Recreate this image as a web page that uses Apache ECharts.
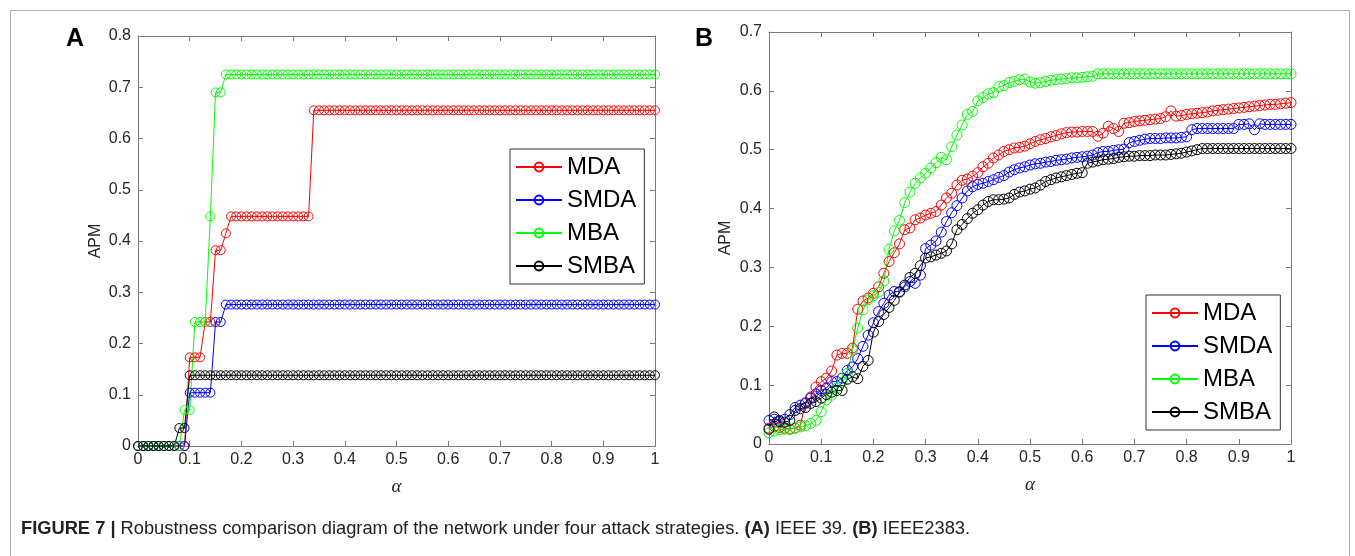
<!DOCTYPE html>
<html>
<head>
<meta charset="utf-8">
<script src="https://cdn.jsdelivr.net/npm/echarts@6/dist/echarts.min.js"></script>
<style>
  html, body { margin: 0; padding: 0; background: #fff; }
  #main { width: 1355px; height: 556px; }
</style>
</head>
<body>
<div id="main"></div>
<script>
// alpha values (x axis), shared by both panels
const alpha = [
  0, 0.01, 0.02, 0.03, 0.04, 0.05, 0.06, 0.07, 0.08, 0.09,
  0.1, 0.11, 0.12, 0.13, 0.14, 0.15, 0.16, 0.17, 0.18, 0.19,
  0.2, 0.21, 0.22, 0.23, 0.24, 0.25, 0.26, 0.27, 0.28, 0.29,
  0.3, 0.31, 0.32, 0.33, 0.34, 0.35, 0.36, 0.37, 0.38, 0.39,
  0.4, 0.41, 0.42, 0.43, 0.44, 0.45, 0.46, 0.47, 0.48, 0.49,
  0.5, 0.51, 0.52, 0.53, 0.54, 0.55, 0.56, 0.57, 0.58, 0.59,
  0.6, 0.61, 0.62, 0.63, 0.64, 0.65, 0.66, 0.67, 0.68, 0.69,
  0.7, 0.71, 0.72, 0.73, 0.74, 0.75, 0.76, 0.77, 0.78, 0.79,
  0.8, 0.81, 0.82, 0.83, 0.84, 0.85, 0.86, 0.87, 0.88, 0.89,
  0.9, 0.91, 0.92, 0.93, 0.94, 0.95, 0.96, 0.97, 0.98, 0.99,
  1
];

const seriesNames = ['MDA', 'SMDA', 'MBA', 'SMBA'];
const seriesColors = ['#ff0000', '#0000ff', '#00ff00', '#000000'];

const xTickLabels = ['0', '0.1', '0.2', '0.3', '0.4', '0.5', '0.6', '0.7', '0.8', '0.9', '1'];
const yTickLabelsA = ['0', '0.1', '0.2', '0.3', '0.4', '0.5', '0.6', '0.7', '0.8'];
const yTickLabelsB = ['0', '0.1', '0.2', '0.3', '0.4', '0.5', '0.6', '0.7'];

// (A) IEEE 39
const aMDA = [
  0, 0, 0, 0, 0, 0, 0, 0, 0, 0,
  0.173, 0.173, 0.173, 0.242, 0.242, 0.382, 0.382, 0.415, 0.448, 0.448,
  0.448, 0.448, 0.448, 0.448, 0.448, 0.448, 0.448, 0.448, 0.448, 0.448,
  0.448, 0.448, 0.448, 0.448, 0.655, 0.655, 0.655, 0.655, 0.655, 0.655,
  0.655, 0.655, 0.655, 0.655, 0.655, 0.655, 0.655, 0.655, 0.655, 0.655,
  0.655, 0.655, 0.655, 0.655, 0.655, 0.655, 0.655, 0.655, 0.655, 0.655,
  0.655, 0.655, 0.655, 0.655, 0.655, 0.655, 0.655, 0.655, 0.655, 0.655,
  0.655, 0.655, 0.655, 0.655, 0.655, 0.655, 0.655, 0.655, 0.655, 0.655,
  0.655, 0.655, 0.655, 0.655, 0.655, 0.655, 0.655, 0.655, 0.655, 0.655,
  0.655, 0.655, 0.655, 0.655, 0.655, 0.655, 0.655, 0.655, 0.655, 0.655,
  0.655
];
const aSMDA = [
  0, 0, 0, 0, 0, 0, 0, 0, 0, 0,
  0.104, 0.104, 0.104, 0.104, 0.104, 0.242, 0.242, 0.276, 0.276, 0.276,
  0.276, 0.276, 0.276, 0.276, 0.276, 0.276, 0.276, 0.276, 0.276, 0.276,
  0.276, 0.276, 0.276, 0.276, 0.276, 0.276, 0.276, 0.276, 0.276, 0.276,
  0.276, 0.276, 0.276, 0.276, 0.276, 0.276, 0.276, 0.276, 0.276, 0.276,
  0.276, 0.276, 0.276, 0.276, 0.276, 0.276, 0.276, 0.276, 0.276, 0.276,
  0.276, 0.276, 0.276, 0.276, 0.276, 0.276, 0.276, 0.276, 0.276, 0.276,
  0.276, 0.276, 0.276, 0.276, 0.276, 0.276, 0.276, 0.276, 0.276, 0.276,
  0.276, 0.276, 0.276, 0.276, 0.276, 0.276, 0.276, 0.276, 0.276, 0.276,
  0.276, 0.276, 0.276, 0.276, 0.276, 0.276, 0.276, 0.276, 0.276, 0.276,
  0.276
];
const aMBA = [
  0, 0, 0, 0, 0, 0, 0, 0, 0, 0.07,
  0.07, 0.242, 0.242, 0.242, 0.448, 0.69, 0.69, 0.725, 0.725, 0.725,
  0.725, 0.725, 0.725, 0.725, 0.725, 0.725, 0.725, 0.725, 0.725, 0.725,
  0.725, 0.725, 0.725, 0.725, 0.725, 0.725, 0.725, 0.725, 0.725, 0.725,
  0.725, 0.725, 0.725, 0.725, 0.725, 0.725, 0.725, 0.725, 0.725, 0.725,
  0.725, 0.725, 0.725, 0.725, 0.725, 0.725, 0.725, 0.725, 0.725, 0.725,
  0.725, 0.725, 0.725, 0.725, 0.725, 0.725, 0.725, 0.725, 0.725, 0.725,
  0.725, 0.725, 0.725, 0.725, 0.725, 0.725, 0.725, 0.725, 0.725, 0.725,
  0.725, 0.725, 0.725, 0.725, 0.725, 0.725, 0.725, 0.725, 0.725, 0.725,
  0.725, 0.725, 0.725, 0.725, 0.725, 0.725, 0.725, 0.725, 0.725, 0.725,
  0.725
];
const aSMBA = [
  0, 0, 0, 0, 0, 0, 0, 0, 0.035, 0.035,
  0.138, 0.138, 0.138, 0.138, 0.138, 0.138, 0.138, 0.138, 0.138, 0.138,
  0.138, 0.138, 0.138, 0.138, 0.138, 0.138, 0.138, 0.138, 0.138, 0.138,
  0.138, 0.138, 0.138, 0.138, 0.138, 0.138, 0.138, 0.138, 0.138, 0.138,
  0.138, 0.138, 0.138, 0.138, 0.138, 0.138, 0.138, 0.138, 0.138, 0.138,
  0.138, 0.138, 0.138, 0.138, 0.138, 0.138, 0.138, 0.138, 0.138, 0.138,
  0.138, 0.138, 0.138, 0.138, 0.138, 0.138, 0.138, 0.138, 0.138, 0.138,
  0.138, 0.138, 0.138, 0.138, 0.138, 0.138, 0.138, 0.138, 0.138, 0.138,
  0.138, 0.138, 0.138, 0.138, 0.138, 0.138, 0.138, 0.138, 0.138, 0.138,
  0.138, 0.138, 0.138, 0.138, 0.138, 0.138, 0.138, 0.138, 0.138, 0.138,
  0.138
];

// (B) IEEE2383
const bMDA = [
  0.027, 0.030, 0.028, 0.027, 0.025, 0.027, 0.032, 0.069, 0.080, 0.097,
  0.106, 0.112, 0.124, 0.151, 0.154, 0.154, 0.163, 0.229, 0.243, 0.248,
  0.256, 0.267, 0.290, 0.310, 0.325, 0.340, 0.364, 0.367, 0.381, 0.384,
  0.389, 0.392, 0.395, 0.406, 0.418, 0.426, 0.440, 0.448, 0.450, 0.455,
  0.461, 0.471, 0.477, 0.486, 0.491, 0.497, 0.500, 0.503, 0.504, 0.506,
  0.510, 0.514, 0.517, 0.519, 0.522, 0.524, 0.527, 0.529, 0.530, 0.530,
  0.531, 0.531, 0.531, 0.523, 0.528, 0.540, 0.536, 0.531, 0.545, 0.546,
  0.548, 0.549, 0.550, 0.551, 0.552, 0.553, 0.556, 0.566, 0.557, 0.558,
  0.560, 0.561, 0.562, 0.563, 0.564, 0.566, 0.567, 0.568, 0.569, 0.570,
  0.571, 0.572, 0.573, 0.574, 0.575, 0.576, 0.577, 0.577, 0.578, 0.579,
  0.580
];
const bSMDA = [
  0.040, 0.042, 0.040, 0.042, 0.050, 0.062, 0.066, 0.070, 0.078, 0.085,
  0.091, 0.095, 0.106, 0.106, 0.112, 0.125, 0.131, 0.145, 0.166, 0.185,
  0.206, 0.225, 0.239, 0.253, 0.259, 0.259, 0.267, 0.276, 0.273, 0.287,
  0.332, 0.338, 0.345, 0.360, 0.378, 0.393, 0.405, 0.418, 0.430, 0.437,
  0.441, 0.443, 0.446, 0.449, 0.453, 0.456, 0.462, 0.466, 0.469, 0.471,
  0.474, 0.476, 0.477, 0.479, 0.480, 0.482, 0.483, 0.484, 0.486, 0.487,
  0.488, 0.489, 0.491, 0.495, 0.497, 0.497, 0.499, 0.500, 0.501, 0.512,
  0.514, 0.516, 0.518, 0.519, 0.519, 0.519, 0.520, 0.520, 0.520, 0.521,
  0.522, 0.534, 0.536, 0.536, 0.536, 0.536, 0.536, 0.536, 0.536, 0.536,
  0.543, 0.543, 0.544, 0.534, 0.544, 0.543, 0.543, 0.543, 0.543, 0.543,
  0.543
];
const bMBA = [
  0.019, 0.022, 0.024, 0.025, 0.026, 0.027, 0.029, 0.031, 0.035, 0.040,
  0.055, 0.075, 0.083, 0.095, 0.105, 0.120, 0.160, 0.197, 0.228, 0.245,
  0.252, 0.258, 0.277, 0.331, 0.362, 0.380, 0.410, 0.428, 0.443, 0.452,
  0.460, 0.469, 0.478, 0.487, 0.483, 0.505, 0.525, 0.542, 0.560, 0.565,
  0.583, 0.589, 0.595, 0.597, 0.607, 0.609, 0.614, 0.616, 0.619, 0.620,
  0.615, 0.613, 0.614, 0.616, 0.618, 0.619, 0.620, 0.621, 0.622, 0.622,
  0.623, 0.624, 0.625, 0.629, 0.629, 0.629, 0.629, 0.629, 0.629, 0.629,
  0.629, 0.629, 0.629, 0.629, 0.629, 0.629, 0.629, 0.629, 0.629, 0.629,
  0.629, 0.629, 0.629, 0.629, 0.629, 0.629, 0.629, 0.629, 0.629, 0.629,
  0.629, 0.629, 0.629, 0.629, 0.629, 0.629, 0.629, 0.629, 0.629, 0.629,
  0.629
];
const bSMBA = [
  0.025, 0.046, 0.038, 0.037, 0.040, 0.057, 0.060, 0.062, 0.069, 0.072,
  0.078, 0.084, 0.088, 0.091, 0.091, 0.110, 0.114, 0.111, 0.132, 0.142,
  0.190, 0.208, 0.220, 0.232, 0.244, 0.258, 0.270, 0.283, 0.290, 0.303,
  0.316, 0.318, 0.321, 0.324, 0.328, 0.340, 0.364, 0.373, 0.383, 0.392,
  0.398, 0.406, 0.412, 0.415, 0.415, 0.416, 0.418, 0.424, 0.428, 0.430,
  0.433, 0.435, 0.440, 0.446, 0.449, 0.452, 0.454, 0.456, 0.458, 0.460,
  0.461, 0.477, 0.479, 0.481, 0.483, 0.484, 0.485, 0.487, 0.488, 0.489,
  0.489, 0.490, 0.490, 0.490, 0.491, 0.491, 0.491, 0.492, 0.493, 0.494,
  0.496, 0.498, 0.500, 0.502, 0.502, 0.502, 0.502, 0.502, 0.502, 0.502,
  0.502, 0.502, 0.502, 0.502, 0.502, 0.502, 0.502, 0.502, 0.502, 0.502,
  0.502
];

const panelA = [aMDA, aSMDA, aMBA, aSMBA];
const panelB = [bMDA, bSMDA, bMBA, bSMBA];

const axisColor = '#7a7a7a';
const labelColor = '#262626';
const tickFont = 'Liberation Sans, Arial, sans-serif';

const myChart = echarts.init(document.getElementById('main'));

function xAxes(gridIndex, top) {
  return {
    type: 'value',
    gridIndex: gridIndex,
    position: top ? 'top' : 'bottom',
    min: 0, max: 1, interval: 0.1,
    name: top ? '' : 'α',
    nameLocation: 'middle',
    nameGap: 31,
    nameTextStyle: { fontFamily: 'Liberation Serif, serif', fontStyle: 'italic', fontSize: 19, color: labelColor },
    axisLine: { show: true, onZero: false, lineStyle: { color: axisColor, width: 1 } },
    axisTick: { show: true, inside: true, length: 5, lineStyle: { color: axisColor } },
    axisLabel: {
      show: !top, margin: 6, fontSize: 16, fontFamily: tickFont, color: labelColor,
      formatter: v => xTickLabels[Math.round(v * 10)]
    },
    splitLine: { show: false }
  };
}

function yAxes(gridIndex, right, max, labels, gap) {
  return {
    type: 'value',
    gridIndex: gridIndex,
    position: right ? 'right' : 'left',
    min: 0, max: max, interval: 0.1,
    name: right ? '' : 'APM',
    nameLocation: 'middle',
    nameGap: gap,
    nameTextStyle: { fontFamily: tickFont, fontSize: 16, color: labelColor },
    axisLine: { show: true, onZero: false, lineStyle: { color: axisColor, width: 1 } },
    axisTick: { show: true, inside: true, length: 5, lineStyle: { color: axisColor } },
    axisLabel: {
      show: !right, margin: 7, fontSize: 16, fontFamily: tickFont, color: labelColor,
      formatter: v => labels[Math.round(v * 10)]
    },
    splitLine: { show: false }
  };
}

function makeSeries(values, idx, axisIdx, size) {
  return {
    name: seriesNames[idx],
    type: 'line',
    xAxisIndex: axisIdx,
    yAxisIndex: axisIdx,
    data: alpha.map((a, i) => [a, values[i]]),
    symbol: 'circle',
    symbolSize: size,
    showAllSymbol: true,
    itemStyle: { color: 'rgba(255,255,255,0)', borderColor: seriesColors[idx], borderWidth: 1 },
    lineStyle: { color: seriesColors[idx], width: 1 },
    emphasis: { disabled: true },
    animation: false
  };
}

function legendAt(left, top) {
  return {
    left: left, top: top,
    orient: 'vertical',
    data: seriesNames,
    itemWidth: 46, itemHeight: 11, itemGap: 9,
    padding: [6, 8, 6, 5],
    borderColor: '#333', borderWidth: 1, backgroundColor: '#fff',
    textStyle: { fontFamily: tickFont, fontSize: 24, lineHeight: 24, color: '#000' },
    selectedMode: false
  };
}

const options = {
  animation: false,
  grid: [
    { left: 138, top: 36, width: 517, height: 410 },
    { left: 769, top: 32, width: 522, height: 412 }
  ],
  xAxis: [xAxes(0, false), xAxes(0, true), xAxes(1, false), xAxes(1, true)],
  yAxis: [
    yAxes(0, false, 0.8, yTickLabelsA, 34),
    yAxes(0, true, 0.8, yTickLabelsA, 34),
    yAxes(1, false, 0.7, yTickLabelsB, 35),
    yAxes(1, true, 0.7, yTickLabelsB, 35)
  ],
  legend: [legendAt(510, 149), legendAt(1146, 295)],
  series: [
    ...panelA.map((v, i) => makeSeries(v, i, 0, 9)),
    ...panelB.map((v, i) => makeSeries(v, i, 2, 10))
  ],
  graphic: [
    {
      type: 'rect', left: 8, top: 8, silent: true,
      shape: { width: 1339, height: 570 },
      style: { fill: 'none', stroke: '#b0b0b0', lineWidth: 1 }
    },
    {
      type: 'text', left: 66, top: 27,
      style: { text: 'A', font: 'bold 25px Liberation Sans, Arial, sans-serif', fill: '#000' }
    },
    {
      type: 'text', left: 695, top: 27,
      style: { text: 'B', font: 'bold 25px Liberation Sans, Arial, sans-serif', fill: '#000' }
    },
    {
      type: 'text', left: 21, top: 520,
      style: {
        text: '{b|FIGURE 7 |} Robustness comparison diagram of the network under four attack strategies. {b|(A)} IEEE 39. {b|(B)} IEEE2383.',
        font: '18.3px Liberation Sans, Arial, sans-serif',
        fill: '#222',
        rich: {
          b: { fontWeight: 'bold', fontSize: 18.3, fontFamily: 'Liberation Sans, Arial, sans-serif', fill: '#222' }
        }
      }
    }
  ]
};

myChart.setOption(options);
</script>
</body>
</html>
